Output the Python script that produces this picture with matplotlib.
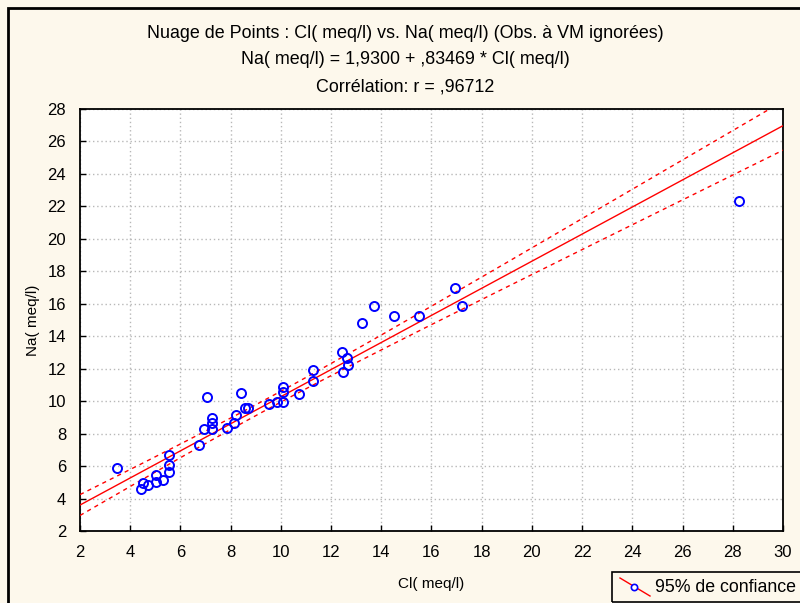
import numpy as np
import matplotlib
matplotlib.use("Agg")
import matplotlib.pyplot as plt
from matplotlib.patches import Rectangle
from matplotlib.lines import Line2D

# ---- data ----
cl = [3.47, 4.42, 4.52, 4.72, 5.03, 5.03, 5.29, 5.56, 5.56, 5.56,
      6.73, 6.95, 7.05, 7.26, 7.26, 7.26, 7.84, 8.14, 8.20, 8.41,
      8.57, 8.70, 9.54, 9.83, 10.10, 10.10, 10.10, 10.72, 11.27, 11.27,
      12.42, 12.49, 12.62, 12.69, 13.22, 13.71, 14.52, 15.51, 16.94, 17.23,
      28.26]
na = [5.88, 4.59, 4.98, 4.83, 5.45, 5.04, 5.14, 6.68, 6.07, 5.66,
      7.30, 8.26, 10.24, 8.94, 8.63, 8.26, 8.33, 8.68, 9.15, 10.48,
      9.56, 9.56, 9.81, 9.97, 9.97, 10.58, 10.90, 10.42, 11.92, 11.24,
      13.05, 11.82, 12.64, 12.23, 14.84, 15.88, 15.25, 15.25, 17.00, 15.86,
      22.33]
intercept = 1.9300
slope = 0.83469
t_975 = 2.02

title_lines = ["Nuage de Points : Cl( meq/l) vs. Na( meq/l) (Obs. à VM ignorées)",
               "Na( meq/l) = 1,9300 + ,83469 * Cl( meq/l)",
               "Corrélation: r = ,96712"]
xlabel = "Cl( meq/l)"
ylabel = "Na( meq/l)"
legend_label = "95% de confiance"
xticks = list(range(2, 31, 2))
yticks = list(range(2, 29, 2))

plt.rcParams['font.family'] = ['Liberation Sans', 'DejaVu Sans']

W, H = 800, 603
bg = '#fdf8ec'
fig = plt.figure(figsize=(W / 100, H / 100), dpi=100, facecolor=bg)

ax = fig.add_axes([80 / W, 1 - 531 / H, (783 - 80) / W, (531 - 109) / H])
ax.set_facecolor('white')

x = np.asarray(cl)
y = np.asarray(na)
n = len(x)
xm = x.mean()
sxx = ((x - xm) ** 2).sum()
resid = y - (intercept + slope * x)
s = np.sqrt((resid ** 2).sum() / (n - 2))

xs = np.linspace(2, 30, 300)
ys = intercept + slope * xs
hw = t_975 * s * np.sqrt(1 / n + (xs - xm) ** 2 / sxx)

ax.plot(xs, ys, color='#ff0000', lw=1.0, zorder=3)
ax.plot(xs, ys + hw, color='#ff0000', lw=1.0, ls=(0, (3, 3)), zorder=3)
ax.plot(xs, ys - hw, color='#ff0000', lw=1.0, ls=(0, (3, 3)), zorder=3)
ax.plot(x, y, ls='none', marker='o', ms=6.5, mfc='none', mec='#0000ff',
        mew=1.4, zorder=4)

ax.set_xlim(2, 30)
ax.set_ylim(2, 28)
ax.set_xticks(xticks)
ax.set_yticks(yticks)
ax.tick_params(direction='in', length=4, width=1, labelsize=12, pad=10,
               colors='black')
ax.grid(True, color='#b8b8b8', ls=(0, (1, 2)), lw=1)
for sp in ax.spines.values():
    sp.set_linewidth(1.3)
    sp.set_color('black')

ax.set_xlabel(xlabel, fontsize=11, labelpad=12)
ax.set_ylabel(ylabel, fontsize=11, labelpad=5)

for i, t in enumerate(title_lines):
    fig.text(405 / W, 1 - (33 + 27 * i) / H, t,
             ha='center', va='center', fontsize=12.9)

# outer frame
fig.patches.append(Rectangle((8 / W, -0.1), 1.2, 1.1 - 8 / H, fill=False,
                             lw=2, ec='black', transform=fig.transFigure))
# legend box
fig.patches.append(Rectangle((612 / W, 1 - 602 / H), 0.3, 30 / H, fill=False,
                             lw=1.2, ec='black', transform=fig.transFigure))
fig.lines.append(Line2D([620 / W, 650 / W], [1 - 578 / H, 1 - 596 / H],
                        color='#ff0000', lw=1, transform=fig.transFigure))
fig.lines.append(Line2D([634 / W], [1 - 587 / H], marker='o', ms=4.5,
                        mfc='white', mec='#0000ff', mew=1.2,
                        transform=fig.transFigure))
fig.text(655 / W, 1 - 587 / H, legend_label, ha='left', va='center',
         fontsize=12.8)

fig.savefig('out.png', dpi=100, facecolor=bg)
